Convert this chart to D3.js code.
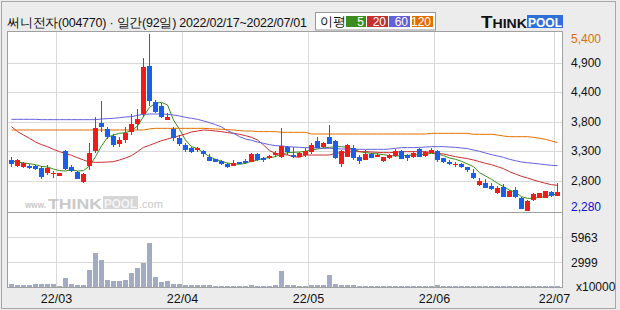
<!DOCTYPE html>
<html>
<head>
<meta charset="utf-8">
<script src="https://cdn.jsdelivr.net/npm/d3@7"></script>
<style>
  body { margin: 0; background: #ececec; }
  svg { display: block; }
  text { font-family: "Liberation Sans", Arial, sans-serif; }
</style>
</head>
<body>
<svg id="chart" width="620" height="310"></svg>
<script>
// 거래일 (2022)
const dates = [
  "02/17","02/18","02/21","02/22","02/23","02/24","02/25","02/28",
  "03/02","03/03","03/04","03/07","03/08","03/10","03/11","03/14","03/15","03/16","03/17","03/18",
  "03/21","03/22","03/23","03/24","03/25","03/28","03/29","03/30","03/31",
  "04/01","04/04","04/05","04/06","04/07","04/08","04/11","04/12","04/13","04/14","04/15",
  "04/18","04/19","04/20","04/21","04/22","04/25","04/26","04/27","04/28","04/29",
  "05/02","05/03","05/04","05/06","05/09","05/10","05/11","05/12","05/13","05/16","05/17",
  "05/18","05/19","05/20","05/23","05/24","05/25","05/26","05/27","05/30","05/31",
  "06/02","06/03","06/07","06/08","06/09","06/10","06/13","06/14","06/15","06/16","06/17",
  "06/20","06/21","06/22","06/23","06/24","06/27","06/28","06/29","06/30",
  "07/01"
];

const openP = [3180,3080,3060,3080,3070,3045,2955,2930,2905,3345,3055,2965,2790,3080,3340,3835,3730,3610,3460,3530,
  3680,3815,3990,4835,4195,4130,3885,3720,3560,3445,3385,3355,3345,3225,3195,3170,3105,3080,3140,3170,
  3150,3285,3220,3210,3270,3240,3415,3265,3225,3265,3325,3520,3405,3590,3515,3110,3240,3395,3240,3180,
  3285,3240,3170,3210,3255,3340,3265,3225,3380,3255,3310,3340,3210,3150,3105,3105,3050,2955,2740,2770,
  2725,2590,2695,2535,2650,2515,2285,2475,2515,2515,2620,2550];
const highP = [3225,3190,3150,3110,3085,3080,3090,2990,2955,3360,3090,2990,2955,3475,3945,4220,3765,3630,3590,3765,
  3985,4070,4970,5400,4235,4180,4000,3765,3620,3475,3415,3415,3355,3285,3205,3180,3130,3180,3150,3190,
  3310,3295,3240,3265,3340,3750,3425,3400,3325,3385,3475,3580,3500,3795,3530,3355,3455,3445,3265,3355,
  3295,3310,3240,3280,3370,3355,3280,3340,3395,3340,3385,3355,3220,3180,3150,3120,3060,3020,2855,2845,
  2770,2720,2750,2650,2710,2535,2475,2590,2605,2635,2635,2780];
const lowP = [3050,3055,3030,3015,3005,2850,2910,2855,2895,3005,2960,2840,2770,3005,3310,3680,3550,3415,3415,3475,
  3620,3710,3945,4130,4000,3915,3885,3520,3425,3325,3310,3325,3240,3170,3140,3095,3030,3080,3105,3110,
  3150,3170,3150,3190,3240,3220,3265,3220,3225,3240,3285,3385,3385,3460,3190,3060,3225,3180,3110,3180,
  3210,3225,3140,3200,3240,3190,3170,3220,3225,3240,3295,3150,3130,3090,3060,3030,2975,2840,2720,2680,
  2650,2575,2520,2520,2515,2310,2280,2455,2505,2505,2535,2545];
const closeP = [3105,3175,3125,3030,3015,2885,3045,2950,2945,3020,2990,2850,2930,3295,3750,3765,3590,3445,3530,3650,
  3810,3900,4825,4225,4030,3945,3945,3560,3460,3355,3325,3390,3285,3170,3150,3105,3060,3120,3110,3120,
  3285,3180,3180,3255,3295,3425,3325,3240,3295,3345,3445,3395,3475,3460,3210,3345,3440,3220,3170,3285,
  3220,3265,3225,3265,3345,3195,3220,3310,3225,3325,3355,3180,3150,3105,3115,3050,3005,2855,2810,2690,
  2670,2690,2535,2635,2535,2315,2455,2575,2590,2635,2545,2620];

// 거래량 (x10000)
const volume = [360,280,280,280,400,400,400,400,160,1115,400,280,280,2070,4100,3270,875,760,760,875,
  1710,2310,2910,5300,1235,640,760,400,400,280,280,280,280,280,160,160,160,160,160,160,
  280,160,160,160,280,1950,280,280,200,160,280,280,280,1475,400,280,280,280,160,160,
  160,160,160,160,160,160,160,160,160,160,160,280,160,160,160,160,160,160,160,160,
  160,160,160,160,160,160,160,160,160,160,160,160];

// 이동평균
const ma5 = [3156,3144,3126,3114,3097,3067,3056,3020,2991,2985,3009,2985,2991,3073,3238,3426,3579,3620,3649,3661,
  3696,3778,3943,4108,4178,4196,4149,3884,3720,3532,3414,3379,3308,3238,3191,3156,3126,3109,3103,3120,
  3156,3179,3209,3220,3238,3285,3308,3314,3320,3332,3356,3373,3391,3402,3414,3414,3402,3367,3326,3308,
  3297,3285,3273,3256,3250,3250,3261,3267,3273,3279,3297,3285,3256,3214,3191,3156,3109,3062,2956,2897,
  2838,2768,2709,2650,2609,2533,2503,2503,2521,2533,2562,2580];
const ma20 = [3767,3679,3620,3561,3496,3449,3414,3367,3326,3297,3261,3220,3179,3144,3138,3138,3144,3150,3179,3214,
  3256,3326,3402,3438,3479,3520,3549,3579,3608,3637,3673,3690,3708,3702,3690,3679,3661,3649,3632,3608,
  3579,3532,3444,3344,3297,3279,3267,3238,3226,3267,3267,3267,3267,3267,3297,3308,3320,3326,3326,3326,
  3320,3314,3308,3308,3314,3326,3326,3326,3326,3326,3308,3297,3285,3261,3238,3220,3203,3179,3150,3120,
  3097,3062,3026,2973,2932,2891,2862,2827,2797,2768,2744,2732];
const ma60 = [3896,3896,3896,3896,3896,3890,3890,3890,3890,3890,3890,3890,3890,3890,3890,3902,3908,3914,3925,3937,
  3943,3966,3984,3990,3990,3990,3984,3972,3955,3931,3914,3896,3867,3837,3802,3761,3696,3649,3590,3549,
  3526,3496,3473,3449,3432,3426,3414,3408,3402,3397,3397,3391,3385,3385,3379,3373,3373,3367,3367,3367,
  3367,3367,3367,3373,3385,3397,3397,3397,3402,3408,3414,3414,3414,3408,3402,3391,3379,3356,3332,3302,
  3273,3250,3226,3191,3167,3144,3132,3120,3109,3097,3085,3079];
const ma120 = [3708,3708,3708,3708,3708,3708,3708,3708,3708,3708,3708,3708,3708,3708,3708,3708,3708,3708,3708,3708,
  3708,3708,3708,3726,3737,3737,3737,3737,3737,3737,3737,3737,3737,3731,3726,3720,3714,3708,3696,3690,
  3690,3679,3679,3679,3679,3667,3667,3667,3667,3667,3637,3637,3637,3637,3637,3637,3637,3637,3637,3637,
  3637,3637,3637,3637,3637,3637,3637,3637,3637,3637,3649,3649,3649,3649,3649,3649,3649,3632,3632,3632,
  3632,3620,3602,3590,3590,3590,3590,3579,3561,3543,3514,3485];

// 축 눈금
const priceTicks = [4889, 4378, 3849, 3338, 2809];
const priceTickLabels = ["4,900", "4,400", "3,800", "3,300", "2,800"];
const priceMax = 5400, priceMin = 2280;
const volTicks = [5963, 2999];
const monthTicks = ["03/02", "04/01", "05/02", "06/02", "07/01"];
const monthLabels = ["22/03", "22/04", "22/05", "22/06", "22/07"];

const maNames = ["5", "20", "60", "120"];
const maColors = ["#3c8c1e", "#c43030", "#6660d8", "#e07000"];
const upColor = "#f01c1c", downColor = "#1c5ee6";

function drawChart() {
  const svg = d3.select("#chart");

  // 바깥 틀
  svg.append("rect").attr("x", 1.5).attr("y", 1.5).attr("width", 614).attr("height", 307)
    .attr("fill", "#ececec").attr("stroke", "#a8a8a8");

  // 차트 판
  svg.append("rect").attr("x", 7.5).attr("y", 31.5).attr("width", 555).attr("height", 256)
    .attr("fill", "#fff").attr("stroke", "#a0a0a0");

  const x = d3.scaleBand().domain(dates).range([8, 560]).padding(0);
  const y = d3.scaleLinear().domain([priceMin, priceMax]).range([211, 34]);
  const yv = d3.scaleLinear().domain([0, 8950]).range([287.5, 212.5]);

  const grid = svg.append("g").attr("stroke", "#d9d9d9").attr("shape-rendering", "crispEdges");
  grid.selectAll(".hg").data(priceTicks).enter().append("line")
    .attr("x1", 8).attr("x2", 562)
    .attr("y1", d => Math.round(y(d)) + 0.5).attr("y2", d => Math.round(y(d)) + 0.5);
  grid.selectAll(".vg").data(volTicks).enter().append("line")
    .attr("x1", 8).attr("x2", 562)
    .attr("y1", d => Math.floor(yv(d)) + 0.5).attr("y2", d => Math.floor(yv(d)) + 0.5);
  grid.selectAll(".mg").data(monthTicks).enter().append("line")
    .attr("x1", d => x(d) + 0.5).attr("x2", d => x(d) + 0.5)
    .attr("y1", 32).attr("y2", 287);

  // 가격/거래량 구분선
  svg.append("line").attr("x1", 8).attr("x2", 562).attr("y1", 212.5).attr("y2", 212.5)
    .attr("stroke", "#a0a0a0").attr("shape-rendering", "crispEdges");

  drawWatermark(svg);

  // 거래량
  svg.append("g").selectAll("rect").data(volume).enter().append("rect")
    .attr("x", (d, i) => x(dates[i]) + 1)
    .attr("width", 5)
    .attr("y", d => Math.round(yv(d)))
    .attr("height", d => 287 - Math.round(yv(d)))
    .attr("fill", "#a3abc3")
    .attr("shape-rendering", "crispEdges");

  // 이동평균선
  const line = d3.line().x((d, i) => x(dates[i]) + 3.5).y(d => y(d));
  [ma5, ma20, ma60, ma120].forEach((arr, k) => {
    svg.append("path").datum(arr)
      .attr("d", line)
      .attr("fill", "none")
      .attr("stroke", maColors[k])
      .attr("stroke-width", 1);
  });

  // 캔들
  const candles = svg.append("g").attr("shape-rendering", "crispEdges");
  dates.forEach((d, i) => {
    const col = closeP[i] >= openP[i] ? upColor : downColor;
    const cx = x(d) + 3.5;
    candles.append("line")
      .attr("x1", cx).attr("x2", cx)
      .attr("y1", y(highP[i])).attr("y2", y(lowP[i]))
      .attr("stroke", col);
    const top = y(Math.max(openP[i], closeP[i]));
    const bot = y(Math.min(openP[i], closeP[i]));
    candles.append("rect")
      .attr("x", x(d) + 1).attr("width", 5)
      .attr("y", top).attr("height", Math.max(1, bot - top))
      .attr("fill", col);
  });

  // 오른쪽 가격축
  const axisR = svg.append("g").attr("transform", "translate(563,0)")
    .call(d3.axisRight(y).tickValues(priceTicks).tickFormat((d, i) => priceTickLabels[i]).tickSize(0).tickPadding(8));
  axisR.select(".domain").remove();
  axisR.selectAll("text").attr("font-size", 12).attr("fill", "#111")
    .attr("font-family", "Liberation Sans, Arial, sans-serif");

  svg.append("text").attr("x", 571).attr("y", y(priceMax) + 9).attr("font-size", 12)
    .attr("fill", "#d8700c").text(d3.format(",")(priceMax));
  svg.append("text").attr("x", 571).attr("y", y(priceMin) - 0.5).attr("font-size", 12)
    .attr("fill", "#1010d0").text(d3.format(",")(priceMin));

  // 거래량 축
  const axisV = svg.append("g").attr("transform", "translate(563,0)")
    .call(d3.axisRight(yv).tickValues(volTicks).tickFormat(d3.format("d")).tickSize(0).tickPadding(8));
  axisV.select(".domain").remove();
  axisV.selectAll("text").attr("font-size", 12).attr("fill", "#111")
    .attr("font-family", "Liberation Sans, Arial, sans-serif");
  svg.append("text").attr("x", 576).attr("y", 290.5).attr("font-size", 12).attr("fill", "#111").text("x10000");

  // 아래 날짜축
  const axisB = svg.append("g").attr("transform", "translate(" + (0.5 - x.bandwidth() / 2) + ",288)")
    .call(d3.axisBottom(x).tickValues(monthTicks).tickFormat((d, i) => monthLabels[i]).tickSize(0).tickPadding(6));
  axisB.select(".domain").remove();
  axisB.selectAll("text").attr("font-size", 12.5).attr("fill", "#111")
    .attr("font-family", "Liberation Sans, Arial, sans-serif");

  drawHeader(svg);
}

function drawWatermark(svg) {
  const g = svg.append("g").attr("fill", "#c9c9c9").attr("font-weight", "bold");
  g.append("text").attr("x", 25).attr("y", 208).attr("font-size", 9.5)
    .attr("textLength", 21).attr("lengthAdjust", "spacingAndGlyphs").text("www.");
  g.append("text").attr("x", 48).attr("y", 208.5).attr("font-size", 14).attr("font-weight", 900)
    .attr("textLength", 54).attr("lengthAdjust", "spacingAndGlyphs").text("THINK");
  g.append("rect").attr("x", 103).attr("y", 196).attr("width", 35).attr("height", 13).attr("fill", "#d6d6d6");
  g.append("text").attr("x", 104).attr("y", 208).attr("font-size", 13).attr("fill", "#f4f4f4")
    .attr("textLength", 33).attr("lengthAdjust", "spacingAndGlyphs").text("POOL");
  g.append("text").attr("x", 139).attr("y", 208).attr("font-size", 11).attr("font-weight", "normal").text(".com");
}

function drawHeader(svg) {
  svg.append("text").attr("x", 7).attr("y", 27)
    .attr("font-family", "Noto Sans CJK KR, sans-serif").attr("font-size", 12.5).attr("fill", "#111")
    .attr("textLength", 300)
    .text("써니전자(004770) · 일간(92일) 2022/02/17~2022/07/01");

  // 이평 범례
  const lg = svg.append("g");
  lg.append("rect").attr("x", 315.5).attr("y", 12.5).attr("width", 120).attr("height", 17.5)
    .attr("fill", "#fff").attr("stroke", "#999");
  lg.append("text").attr("x", 320).attr("y", 26).attr("font-family", "Noto Sans CJK KR, sans-serif")
    .attr("font-size", 12.5).attr("fill", "#111").text("이평");
  const boxX = [346, 367, 389, 412];
  const boxW = [20, 21, 21, 21];
  maNames.forEach((n, k) => {
    lg.append("rect").attr("x", boxX[k]).attr("y", 16).attr("width", boxW[k]).attr("height", 11)
      .attr("fill", maColors[k]);
    lg.append("text").attr("x", boxX[k] + boxW[k] - 2).attr("y", 26).attr("text-anchor", "end")
      .attr("font-size", 12).attr("fill", "#fff").text(n);
  });

  // THINKPOOL 로고
  const logo = svg.append("g").attr("font-weight", 900);
  logo.append("text").attr("x", 481).attr("y", 28).attr("fill", "#111").attr("font-size", 12)
    .attr("textLength", 46).attr("lengthAdjust", "spacingAndGlyphs")
    .html('<tspan font-size="16">T</tspan>HINK');
  logo.append("rect").attr("x", 527).attr("y", 15).attr("width", 36).attr("height", 13).attr("fill", "#2f6fdc");
  logo.append("text").attr("x", 528).attr("y", 27).attr("fill", "#fff").attr("font-size", 13)
    .attr("textLength", 34).attr("lengthAdjust", "spacingAndGlyphs").text("POOL");
}

drawChart();
</script>
</body>
</html>
